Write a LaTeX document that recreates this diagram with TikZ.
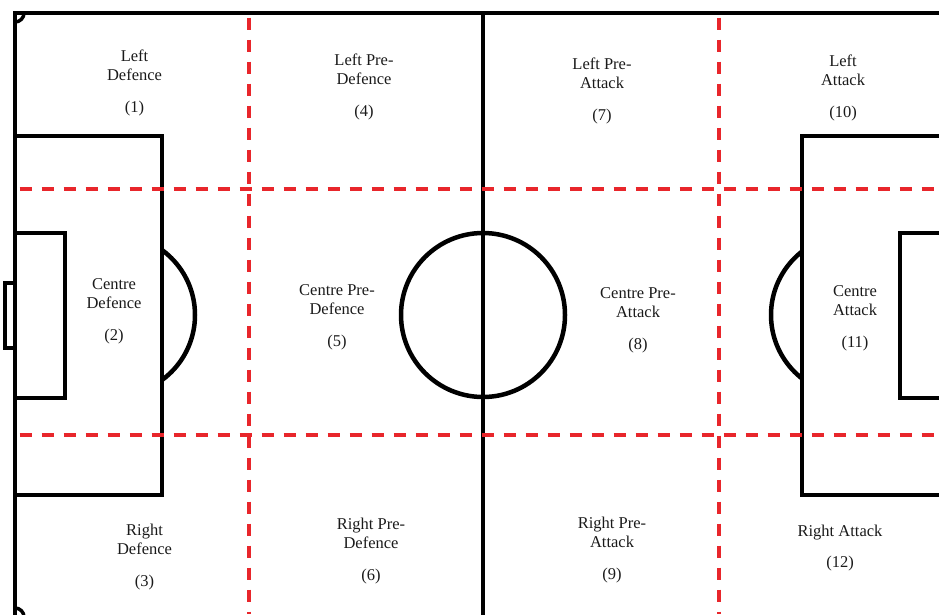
\documentclass[tikz,border=0pt]{standalone}
\usepackage{fontspec}
\setmainfont{Liberation Serif}
\usepackage{tikz}
\usetikzlibrary{positioning}
\definecolor{chalk}{HTML}{000000}
\definecolor{zonered}{HTML}{E8262B}
\definecolor{ink}{HTML}{1A1A1A}
\tikzset{pitch/.style={draw=chalk,line width=4.5pt},goalline/.style={draw=chalk,line width=3.5pt},zone/.style={draw=zonered,line width=3.5pt,dash pattern=on 12.5pt off 9.5pt,dash phase=17.5pt},zonelabel/.style={align=center,inner sep=0pt,text=ink,font=\fontsize{16.5}{19}\selectfont}}
\begin{document}
\begin{tikzpicture}[x=1pt,y=-1pt]
\useasboundingbox (0,0) rectangle (939,614);
\clip (0,0) rectangle (939,614);
\coordinate (tl) at (15,13);\coordinate (br) at (951,617);\coordinate (kick) at (483,315);
\draw[pitch] (tl) rectangle (br);
\draw[pitch] (483,13)--(483,617);
\draw[pitch] (kick) circle[radius=82pt];
\draw[pitch] (15,136) rectangle (162,495);\draw[pitch] (15,233) rectangle (65,398);
\draw[pitch] (802,136) rectangle (951,495);\draw[pitch] (900,233) rectangle (951,398);
\draw[goalline] (5,283) rectangle (15,348);
\begin{scope}\clip (162,0) rectangle (483,614);\draw[pitch] (114.5,315) circle[radius=80.5pt];\end{scope}
\begin{scope}\clip (483,0) rectangle (802,614);\draw[pitch] (851.5,315) circle[radius=80.5pt];\end{scope}
\begin{scope}\clip (tl) rectangle (br);\draw[goalline] (tl) circle[radius=9pt];\draw[goalline] (15,617) circle[radius=9pt];\end{scope}
\draw[zone] (249,13)--(249,614);\draw[zone] (719,13)--(719,614);
\draw[zone] (15,189)--(939,189);\draw[zone] (15,435)--(939,435);
\node[zonelabel] (z1) at (134.5,83) {Left\\Defence\\[13pt](1)};
\node[zonelabel] (z2) at (114,311) {Centre\\Defence\\[13pt](2)};
\node[zonelabel] (z3) at (144.5,557) {Right\\Defence\\[13pt](3)};
\node[zonelabel] (z4) at (364,86.5) {Left Pre-\\Defence\\[13pt](4)};
\node[zonelabel] (z5) at (337,317) {Centre Pre-\\Defence\\[13pt](5)};
\node[zonelabel] (z6) at (371,551) {Right Pre-\\Defence\\[13pt](6)};
\node[zonelabel] (z7) at (602,91) {Left Pre-\\Attack\\[13pt](7)};
\node[zonelabel] (z8) at (638,320) {Centre Pre-\\Attack\\[13pt](8)};
\node[zonelabel] (z9) at (612,550) {Right Pre-\\Attack\\[13pt](9)};
\node[zonelabel] (z10) at (843,88) {Left\\Attack\\[13pt](10)};
\node[zonelabel] (z11) at (855,318) {Centre\\Attack\\[13pt](11)};
\node[zonelabel] (z12) at (840,548) {Right Attack\\[12pt](12)};
\end{tikzpicture}
\end{document}
